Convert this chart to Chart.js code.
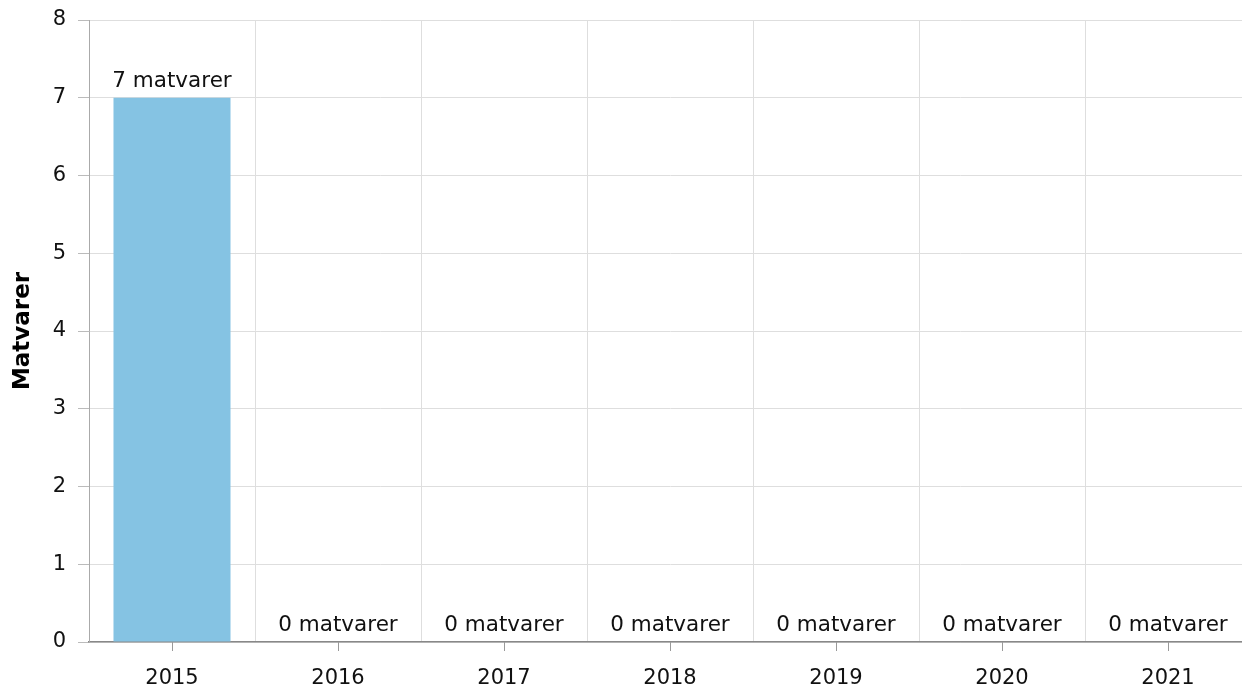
<!DOCTYPE html>
<html>
<head>
<meta charset="utf-8">
<script src="https://cdn.jsdelivr.net/npm/chart.js@4.4.1/dist/chart.umd.min.js"></script>
<style>
html,body{margin:0;padding:0;background:#fff;overflow:hidden;}
#wrap{position:relative;width:1252px;height:688px;}
</style>
</head>
<body>
<div id="wrap"><canvas id="c"></canvas></div>
<script>
const years=['2015','2016','2017','2018','2019','2020','2021'];
const counts=[7,0,0,0,0,0,0];
const unit='matvarer';
const yTitle='Matvarer';

const FONT='DejaVu Sans, Verdana, sans-serif';
// labels above bars + tick marks at category centres
const extras={id:'extras',afterDatasetsDraw(chart){
  const ctx=chart.ctx, meta=chart.getDatasetMeta(0), xs=chart.scales.x, bottom=chart.chartArea.bottom;
  ctx.save();
  ctx.strokeStyle='#999'; ctx.lineWidth=1;
  years.forEach((y,i)=>{ const px=Math.round(xs.getPixelForValue(i))+0.5; ctx.beginPath(); ctx.moveTo(px,bottom); ctx.lineTo(px,bottom+9); ctx.stroke(); });
  ctx.fillStyle='#111'; ctx.font='21.5px '+FONT; ctx.textAlign='center'; ctx.textBaseline='bottom';
  meta.data.forEach((bar,i)=>{ ctx.fillText(counts[i]+' '+unit, bar.x, bar.y-6); });
  ctx.restore();
}};
new Chart(document.getElementById('c'),{
  type:'bar',
  data:{labels:years,datasets:[{data:counts,backgroundColor:'#85c3e3',categoryPercentage:1,barPercentage:0.705}]},
  options:{responsive:true,maintainAspectRatio:false,animation:false,
    layout:{padding:{top:20,right:1,left:0,bottom:0}},
    plugins:{legend:{display:false},tooltip:{enabled:false}},
    scales:{
      x:{grid:{color:'#dedede',drawTicks:false},border:{color:'#888',width:1.5},
        ticks:{color:'#111',font:{family:FONT,size:21},padding:24},
        afterFit(s){s.height=46;}},
      y:{min:0,max:8,ticks:{stepSize:1,color:'#111',font:{family:FONT,size:21},padding:12},
        grid:{color:'#dedede',tickLength:11,tickColor:'#bbb'},border:{color:'#aaa'},
        title:{display:true,text:yTitle,color:'#000',font:{family:FONT,size:23,weight:'bold'},padding:{top:9,bottom:0}},
        afterFit(s){s.width=89;s.paddingTop=0;s.paddingBottom=0;}}
    }
  },
  plugins:[extras]
});
</script>
</body>
</html>
